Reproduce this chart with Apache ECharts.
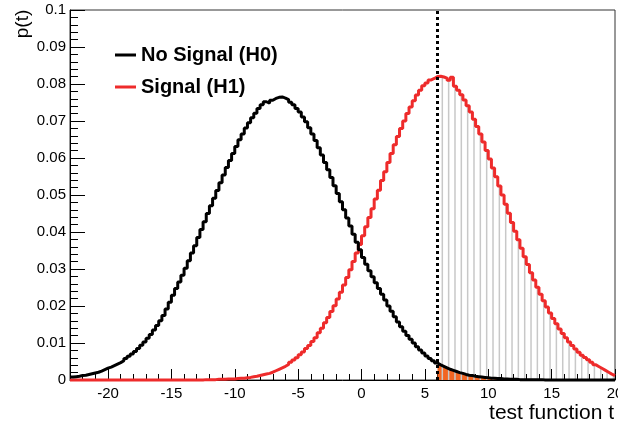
<!DOCTYPE html>
<html>
<head>
<meta charset="utf-8">
<script src="https://cdn.jsdelivr.net/npm/echarts@6/dist/echarts.min.js"></script>
<style>
  html, body { margin: 0; padding: 0; background: #fff; }
  #chart { width: 618px; height: 428px; }
</style>
</head>
<body>
<div id="chart"></div>
<script>
// histogram binning: 172 bins of width 0.25 starting at t = -23
const binStart = -23
const binWidth = 0.25
const cutValue = 6 // observed test-statistic threshold
const hatchEvery = 2 // one gray hatch line every 2 bins

const seriesNames = ['No Signal (H0)', 'Signal (H1)']

// p(t) for H0 (black), one value per bin
const h0Values = [
  0.0008, 0.0009, 0.0010, 0.0012, 0.0013, 0.0015, 0.0017, 0.0019, 0.0021, 0.0024,
  0.0028, 0.0032, 0.0035, 0.0039, 0.0043, 0.0047, 0.0052, 0.0058, 0.0064, 0.0070,
  0.0077, 0.0085, 0.0094, 0.0103, 0.0113, 0.0123, 0.0135, 0.0147, 0.0160, 0.0174,
  0.0192, 0.0210, 0.0229, 0.0247, 0.0265, 0.0283, 0.0302, 0.0322, 0.0343, 0.0363,
  0.0385, 0.0407, 0.0428, 0.0450, 0.0471, 0.0491, 0.0512, 0.0533, 0.0554, 0.0574,
  0.0593, 0.0612, 0.0631, 0.0649, 0.0665, 0.0681, 0.0695, 0.0709, 0.0721, 0.0734,
  0.0744, 0.0752, 0.0748, 0.0756, 0.0761, 0.0764, 0.0765, 0.0762, 0.0758, 0.0751,
  0.0744, 0.0734, 0.0724, 0.0711, 0.0698, 0.0682, 0.0665, 0.0647, 0.0628, 0.0608,
  0.0588, 0.0568, 0.0547, 0.0525, 0.0504, 0.0482, 0.0460, 0.0438, 0.0416, 0.0394,
  0.0372, 0.0352, 0.0331, 0.0313, 0.0295, 0.0279, 0.0263, 0.0247, 0.0232, 0.0216,
  0.0200, 0.0186, 0.0171, 0.0157, 0.0144, 0.0132, 0.0120, 0.0110, 0.0100, 0.0090,
  0.0081, 0.0073, 0.0065, 0.0058, 0.0052, 0.0046, 0.0041, 0.0037, 0.0033, 0.0029,
  0.0026, 0.0023, 0.0020, 0.0018, 0.0015, 0.0013, 0.0012, 0.0010, 0.0009, 0.0008,
  0.0007, 0.0006, 0.0005, 0.0005, 0.0004, 0.0004, 0.0003, 0.0003, 0.0002, 0.0002,
  0.0002, 0.0001, 0.0001, 0.0001, 0.0001, 0.0001, 0.0001, 0.0001, 0.0001, 0,
  0, 0, 0, 0, 0, 0, 0, 0, 0, 0,
  0, 0, 0, 0, 0, 0, 0, 0, 0, 0,
  0, 0
]

// p(t) for H1 (red), one value per bin
const h1Values = [
  0, 0, 0, 0, 0, 0, 0, 0, 0, 0,
  0, 0, 0, 0, 0, 0, 0, 0, 0, 0,
  0, 0, 0, 0, 0, 0, 0, 0, 0, 0,
  0, 0, 0, 0, 0, 0, 0, 0, 0, 0,
  0, 0, 0.0001, 0.0001, 0.0001, 0.0001, 0.0002, 0.0002, 0.0002, 0.0003,
  0.0003, 0.0003, 0.0004, 0.0005, 0.0005, 0.0006, 0.0007, 0.0009, 0.0010, 0.0012,
  0.0014, 0.0016, 0.0018, 0.0021, 0.0025, 0.0029, 0.0033, 0.0037, 0.0042, 0.0048,
  0.0054, 0.0060, 0.0068, 0.0076, 0.0085, 0.0093, 0.0104, 0.0114, 0.0128, 0.0140,
  0.0155, 0.0169, 0.0185, 0.0201, 0.0219, 0.0237, 0.0257, 0.0277, 0.0298, 0.0320,
  0.0343, 0.0366, 0.0390, 0.0414, 0.0439, 0.0463, 0.0489, 0.0513, 0.0539, 0.0563,
  0.0588, 0.0612, 0.0636, 0.0658, 0.0680, 0.0700, 0.0720, 0.0738, 0.0755, 0.0770,
  0.0783, 0.0795, 0.0803, 0.0811, 0.0815, 0.0820, 0.0821, 0.0819, 0.0816, 0.0810,
  0.0818, 0.0794, 0.0783, 0.0771, 0.0757, 0.0741, 0.0724, 0.0705, 0.0685, 0.0665,
  0.0643, 0.0620, 0.0597, 0.0573, 0.0549, 0.0524, 0.0500, 0.0475, 0.0451, 0.0426,
  0.0402, 0.0379, 0.0356, 0.0333, 0.0312, 0.0290, 0.0270, 0.0251, 0.0232, 0.0214,
  0.0197, 0.0181, 0.0166, 0.0152, 0.0138, 0.0126, 0.0114, 0.0103, 0.0093, 0.0084,
  0.0075, 0.0067, 0.0061, 0.0055, 0.0048, 0.0041, 0.0036, 0.0031, 0.0026, 0.0021,
  0.0016, 0.0012
]

const fontFamily = '"Liberation Sans", Arial, Helvetica, sans-serif'

// step points from bin left edges, closed at the last right edge
function histPoints(values, fromEdge) {
  let pts = []
  values.forEach((v, i) => {
    let edge = binStart + i * binWidth
    if (fromEdge === undefined || edge >= fromEdge - 1e-9) pts.push([edge, v])
  })
  pts.push([binStart + values.length * binWidth, values[values.length - 1]])
  return pts
}

// gray hatch lines under H1 beyond the cut
function hatchPoints(values) {
  let cutIndex = Math.round((cutValue - binStart) / binWidth)
  let pts = []
  values.forEach((v, i) => {
    if (i > cutIndex && (i - cutIndex) % hatchEvery === 1) {
      pts.push([binStart + (i + 0.5) * binWidth, v])
    }
  })
  return pts
}

let myChart = echarts.init(document.getElementById('chart'))
myChart.setOption({
  animation: false,
  backgroundColor: '#fff',
  grid: {
    left: 70,
    right: 3,
    top: 10,
    bottom: 48,
    outerBoundsMode: 'none',
    containLabel: false,
    show: true,
    borderColor: '#333',
    borderWidth: 1,
  },
  legend: {
    data: seriesNames,
    orient: 'vertical',
    left: 115,
    top: 45,
    padding: 0,
    itemGap: 12,
    itemWidth: 21,
    itemHeight: 3,
    icon: 'rect',
    textStyle: {
      fontFamily: fontFamily,
      fontSize: 20,
      fontWeight: 'bold',
      color: '#000',
      lineHeight: 20,
    },
  },
  xAxis: {
    type: 'value',
    min: binStart,
    max: binStart + h0Values.length * binWidth,
    splitNumber: 8,
    axisLine: { show: true, onZero: false, lineStyle: { color: '#000', width: 1 } },
    axisTick: { show: true, inside: true, length: 11, lineStyle: { color: '#000' } },
    minorTick: { show: true, splitNumber: 5, length: 6, lineStyle: { color: '#000' } },
    splitLine: { show: false },
    axisLabel: {
      showMinLabel: false,
      showMaxLabel: true,
      margin: 6,
      color: '#000',
      fontFamily: fontFamily,
      fontSize: 15,
    },
  },
  yAxis: {
    type: 'value',
    min: 0,
    max: 0.1,
    interval: 0.01,
    axisLine: { show: true, onZero: false, lineStyle: { color: '#000', width: 1 } },
    axisTick: { show: true, inside: true, length: 15, lineStyle: { color: '#000' } },
    minorTick: { show: true, splitNumber: 5, length: 8, lineStyle: { color: '#000' } },
    splitLine: { show: false },
    axisLabel: {
      margin: 4,
      color: '#000',
      fontFamily: fontFamily,
      fontSize: 15,
    },
  },
  graphic: [
    {
      type: 'text',
      x: 23,
      y: 24,
      rotation: Math.PI / 2,
      style: {
        text: 'p(t)',
        fill: '#000',
        font: '19px ' + fontFamily,
        align: 'center',
        verticalAlign: 'middle',
      },
    },
    {
      type: 'text',
      right: 4,
      top: 403,
      style: {
        text: 'test function t',
        fill: '#000',
        font: '21px ' + fontFamily,
      },
    },
  ],
  series: [
    {
      // H0 tail area beyond the cut
      type: 'line',
      step: 'end',
      data: histPoints(h0Values, cutValue),
      symbol: 'none',
      lineStyle: { width: 0 },
      areaStyle: { color: '#f26522', opacity: 1 },
      z: 1,
      silent: true,
    },
    {
      // hatch under H1 beyond the cut
      type: 'bar',
      data: hatchPoints(h1Values),
      barWidth: 1.5,
      itemStyle: { color: '#c8c8c8' },
      z: 2,
      silent: true,
    },
    {
      name: seriesNames[0],
      type: 'line',
      step: 'end',
      data: histPoints(h0Values),
      symbol: 'none',
      clip: false,
      itemStyle: { color: '#000' },
      lineStyle: { color: '#000', width: 3 },
      z: 4,
    },
    {
      name: seriesNames[1],
      type: 'line',
      step: 'end',
      data: histPoints(h1Values),
      symbol: 'none',
      clip: false,
      itemStyle: { color: '#ee2b2b' },
      lineStyle: { color: '#ee2b2b', width: 3 },
      z: 3,
      markLine: {
        silent: true,
        symbol: 'none',
        label: { show: false },
        lineStyle: { color: '#000', type: [3, 3], width: 3 },
        data: [{ xAxis: cutValue }],
      },
    },
  ],
})
</script>
</body>
</html>
